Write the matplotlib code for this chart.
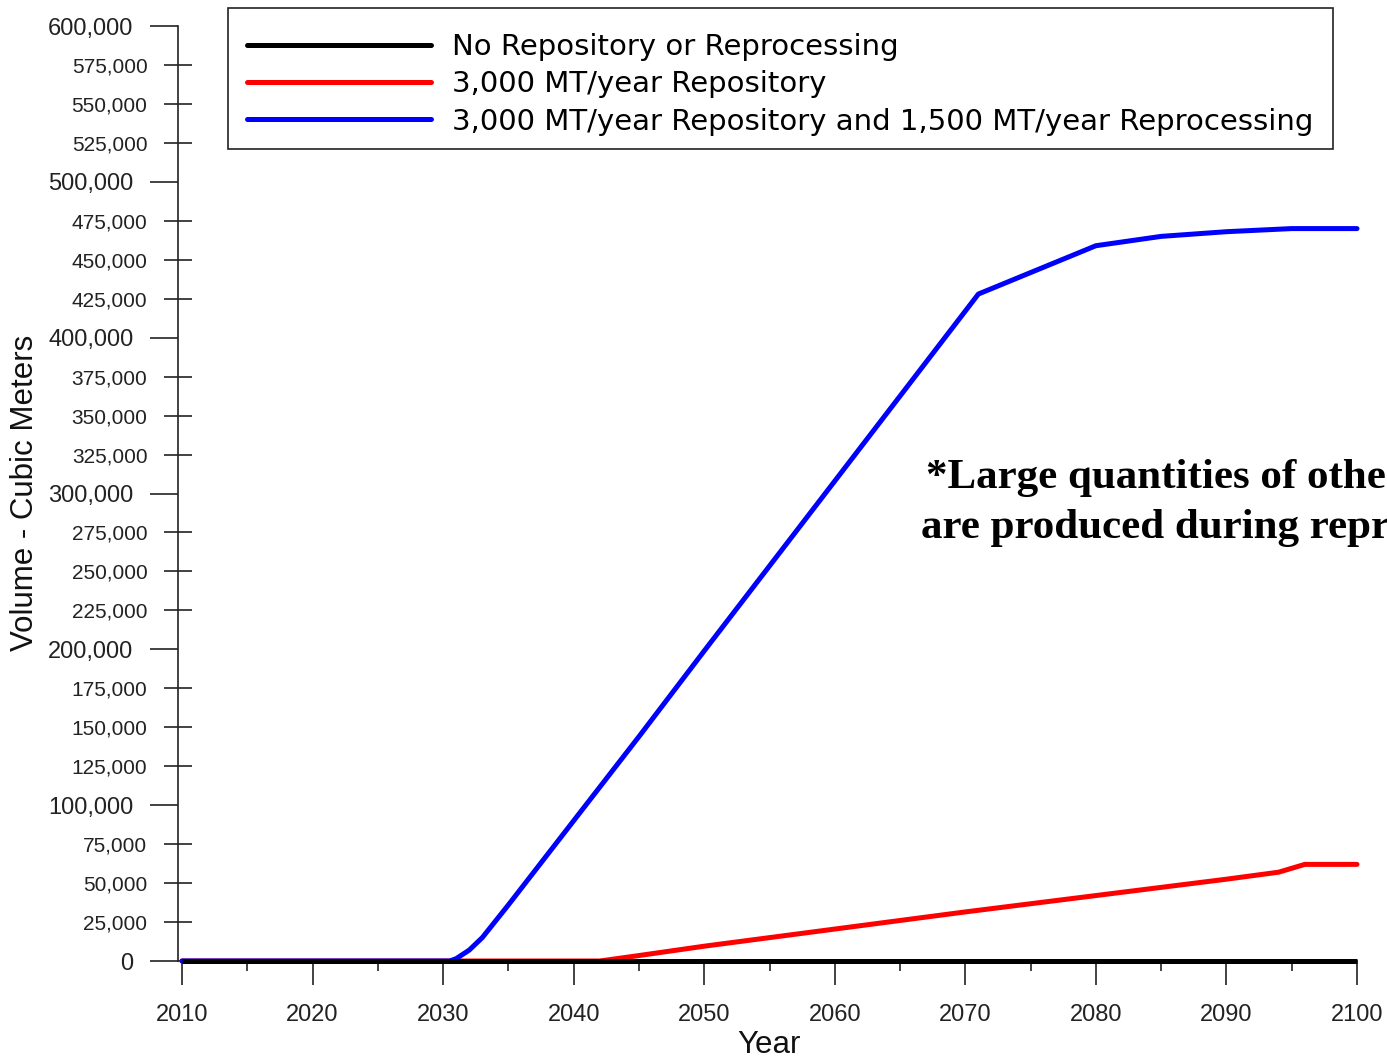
import matplotlib
matplotlib.use("Agg")
import matplotlib.pyplot as plt
from matplotlib.ticker import MultipleLocator, FuncFormatter
from matplotlib.patches import Rectangle

W, H = 1387, 1058
DPI = 100

years_black = [2010, 2100]
vol_black = [0, 0]

years_red = [2010, 2042, 2045, 2050, 2060, 2070, 2080, 2090, 2094, 2095, 2096, 2100]
vol_red = [0, 0, 3500, 9500, 20500, 31500, 42000, 52500, 57000, 59500, 62000, 62000]

years_blue = [2010, 2030.5, 2031, 2032, 2033, 2035, 2040, 2045, 2050, 2060, 2071,
              2080, 2085, 2090, 2095, 2100]
vol_blue = [0, 0, 1500, 7000, 15000, 36000, 90000, 144000, 199000, 308000, 428000,
            459000, 465000, 468000, 470000, 470000]

labels = ["No Repository or Reprocessing",
          "3,000 MT/year Repository",
          "3,000 MT/year Repository and 1,500 MT/year Reprocessing"]
colors = ["#000000", "#ff0000", "#0000ff"]

note_lines = ["*Large quantities of other wastes", "are produced during reprocessing"]

fig = plt.figure(figsize=(W / DPI, H / DPI), dpi=DPI)
fig.patch.set_facecolor("white")

ax_l, ax_r = 178, 1357
ax_b, ax_t = 961, 26
ax = fig.add_axes([ax_l / W, 1 - ax_b / H, (ax_r - ax_l) / W, (ax_b - ax_t) / H])

x0 = 2010 - 4 / ((1357 - 182) / 90)
ax.set_xlim(x0, 2100)
ax.set_ylim(0, 600000)

lw = 3.6
ax.plot(years_red, vol_red, color=colors[1], lw=lw, solid_capstyle="round", clip_on=False, zorder=3, label=labels[1])
ax.plot(years_blue, vol_blue, color=colors[2], lw=lw, solid_capstyle="round", clip_on=False, zorder=3, label=labels[2])
ax.plot(years_black, vol_black, color=colors[0], lw=3.6, solid_capstyle="butt", clip_on=False, zorder=4, label=labels[0])

for s in ["top", "right"]:
    ax.spines[s].set_visible(False)
for s in ["left", "bottom"]:
    ax.spines[s].set_linewidth(1.2)
    ax.spines[s].set_color("#222222")

tick_font = "Liberation Sans"
ax.xaxis.set_major_locator(MultipleLocator(10))
ax.xaxis.set_minor_locator(MultipleLocator(5))
ax.yaxis.set_major_locator(MultipleLocator(100000))
ax.yaxis.set_minor_locator(MultipleLocator(25000))
fmt = FuncFormatter(lambda v, p: f"{int(round(v)):,}")
ax.yaxis.set_major_formatter(fmt)
ax.yaxis.set_minor_formatter(fmt)

ax.tick_params(axis="x", which="major", direction="out", length=17, width=1.2,
               color="#222222", pad=14, labelsize=17, labelcolor="#222222")
ax.tick_params(axis="x", which="minor", direction="out", length=7, width=1.2, color="#222222")
ax.tick_params(axis="y", which="major", direction="out", length=20, width=1.2,
               color="#222222", pad=12, labelsize=17, labelcolor="#222222")
ax.tick_params(axis="y", which="minor", direction="inout", length=20, width=1.2,
               color="#222222", pad=12, labelsize=15, labelcolor="#222222")
for t in ax.get_xticklabels() + ax.get_yticklabels() + ax.get_yminorticklabels():
    t.set_fontfamily(tick_font)

fig.text(25 / W, 1 - 493 / H, "Volume - Cubic Meters", rotation=90, ha="center", va="center",
         fontsize=22.5, family="Liberation Sans", color="#111111")
fig.text(769 / W, 1 - 1045 / H, "Year", ha="center", va="center",
         fontsize=22.5, family="Liberation Sans", color="#111111")

# legend frame
fig.patches.append(Rectangle((228 / W, 1 - 149 / H), (1333 - 228) / W, (149 - 8) / H,
                             transform=fig.transFigure, fill=False,
                             edgecolor="#222222", linewidth=1.2, zorder=5))

handles, labs = ax.get_legend_handles_labels()
order = [labs.index(l) for l in labels]
leg = ax.legend([handles[i] for i in order], [labs[i] for i in order],
                loc="upper left",
                bbox_to_anchor=(228 / W, 1 - 14 / H),
                bbox_transform=fig.transFigure,
                prop={"family": "DejaVu Sans", "size": 21},
                handlelength=6.3, handletextpad=0.72, labelspacing=0.32,
                borderpad=0.65, borderaxespad=0, frameon=False)
for lh in leg.get_lines():
    lh.set_linewidth(3.6)
    lh.set_solid_capstyle("round")

fig.text(926 / W, 1 - 488 / H, note_lines[0], ha="left", va="baseline",
         fontsize=31, fontweight="bold", family="Liberation Serif")
fig.text(921 / W, 1 - 538 / H, note_lines[1], ha="left", va="baseline",
         fontsize=31, fontweight="bold", family="Liberation Serif")

fig.savefig("out.png", dpi=DPI)
